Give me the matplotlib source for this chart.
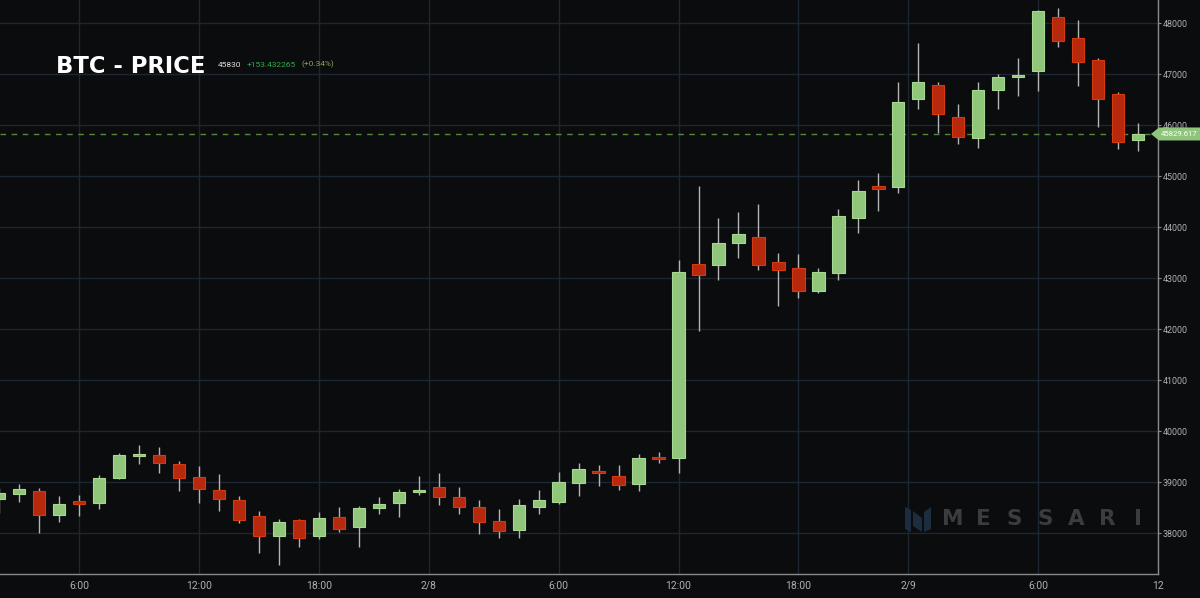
import matplotlib
matplotlib.use("Agg")

import matplotlib.pyplot as plt
import matplotlib.dates as mdates
from matplotlib.patches import Rectangle, Polygon
from matplotlib.transforms import blended_transform_factory
import pandas as pd

# hourly BTC candles, 2/7 02:00 -> 2/9 11:00
times = pd.date_range("2021-02-07 02:00", periods=58, freq="h")
opens = [38679, 38777, 38823, 38365, 38627, 38601, 39091, 39509, 39535, 39359,
         39097, 38856, 38660, 38333, 37947, 38261, 37947, 38313, 38130, 38503,
         38601, 38810, 38901, 38705, 38509, 38235, 38058, 38516, 38614, 38993,
         39228, 39130, 38973, 39490, 39483, 43287, 43268, 43692, 43817, 43326,
         43196, 42745, 43104, 44183, 44810, 44784, 46509, 46784, 46169, 45758,
         46686, 46941, 47058, 48130, 47718, 47274, 46607, 45705]
highs = [38882, 38967, 38882, 38738, 38751, 39143, 39575, 39738, 39699, 39411,
         39320, 39156, 38738, 38431, 38281, 38274, 38424, 38509, 38542, 38705,
         38869, 39124, 39176, 38915, 38653, 38470, 38673, 38849, 39209, 39372,
         39339, 39339, 39555, 39601, 43359, 44810, 44189, 44294, 44451, 43503,
         43470, 43196, 44353, 44921, 45072, 46856, 47607, 46856, 46411, 46856,
         47006, 47326, 48270, 48294, 48065, 47313, 46660, 46039]
lows = [38392, 38620, 37999, 38228, 38339, 38470, 39071, 39352, 39189, 38830,
        38601, 38437, 38209, 37607, 37372, 37738, 37888, 38026, 37738, 38372,
        38326, 38751, 38555, 38372, 37980, 37915, 37915, 38372, 38568, 38732,
        38928, 38849, 38830, 39372, 39176, 41967, 42967, 43405, 43163, 42457,
        42607, 42706, 42967, 43882, 44320, 44666, 46313, 45843, 45627, 45562,
        46326, 46568, 46673, 47535, 46771, 45973, 45529, 45496]
closes = [38784, 38869, 38365, 38575, 38581, 39084, 39542, 39555, 39372, 39091,
          38862, 38679, 38254, 37947, 38215, 37914, 38294, 38091, 38496, 38568,
          38816, 38856, 38712, 38516, 38228, 38045, 38555, 38660, 39000, 39254,
          39176, 38941, 39470, 39450, 43130, 43058, 43699, 43862, 43268, 43157,
          42751, 43117, 44222, 44719, 44745, 46464, 46843, 46228, 45770, 46692,
          46941, 46980, 48241, 47660, 47241, 46522, 45673, 45830]

last_price = "45829.617"
header_price = "45830"
change_abs = "+153.432265"
change_pct = "(+0.34%)"

x_ticks = ["2021-02-07 06:00", "2021-02-07 12:00", "2021-02-07 18:00",
           "2021-02-07 23:30", "2021-02-08 06:00", "2021-02-08 12:00",
           "2021-02-08 18:00", "2021-02-08 23:30", "2021-02-09 06:00",
           "2021-02-09 12:00"]
x_labels = ["6:00", "12:00", "18:00", "2/8", "6:00", "12:00", "18:00", "2/9",
            "6:00", "12"]
y_ticks = list(range(38000, 48001, 1000))

BG = "#0b0c0e"
GRID = "#1d2731"
UP = "#90c67a"
UP_EDGE = "#a8d890"
DOWN = "#b7290d"
DOWN_EDGE = "#d4390f"
WICK = "#b4b4b4"
AXIS = "#8a8a8a"
LABEL = "#b0b0b0"

plt.rcParams["font.family"] = ["Roboto", "DejaVu Sans"]

fig = plt.figure(figsize=(12, 5.98), dpi=100, facecolor=BG)
ax = fig.add_axes([0, 24 / 598, 1158 / 1200, 1 - 24 / 598])
ax.set_facecolor(BG)

xs = mdates.date2num(times)
hour = 1 / 24
w = 0.62 * hour
for x, o, h, l, c in zip(xs, opens, highs, lows, closes):
    up = c >= o
    ax.vlines(x, l, h, color=WICK, linewidth=1, zorder=2)
    lo, hi = min(o, c), max(o, c)
    ax.add_patch(Rectangle((x - w / 2, lo), w, max(hi - lo, 40),
                           facecolor=UP if up else DOWN,
                           edgecolor=UP_EDGE if up else DOWN_EDGE,
                           linewidth=0.8, zorder=3))

ax.set_xlim(xs[0] + 0.035 * hour, xs[-1] + 0.965 * hour)
ax.set_ylim(37202, 48457)

ax.set_xticks(mdates.date2num(pd.to_datetime(x_ticks)))
ax.set_xticklabels(x_labels)
ax.set_yticks(y_ticks)
ax.yaxis.tick_right()
ax.grid(True, color=GRID, linewidth=1, zorder=0)
ax.set_axisbelow(True)

ax.tick_params(axis="x", length=0, pad=5, labelsize=7.5, labelcolor=LABEL)
ax.tick_params(axis="y", length=2, width=0.8, color=AXIS, pad=1.5,
               labelsize=6.4, labelcolor=LABEL)

for side in ("top", "left"):
    ax.spines[side].set_visible(False)
for side in ("right", "bottom"):
    ax.spines[side].set_color(AXIS)
    ax.spines[side].set_linewidth(1)

# current price line and tag at the right edge
last = closes[-1]
ax.axhline(last, color="#55883f", linewidth=1, dashes=(4, 4), zorder=1)
tr = blended_transform_factory(fig.transFigure, ax.transData)
dy = 6.5 / 574 * (48457 - 37202)
tag = Polygon([(1151 / 1200, last), (1159 / 1200, last + dy), (1.01, last + dy),
               (1.01, last - dy), (1159 / 1200, last - dy)],
              closed=True, facecolor="#8fc57a", edgecolor="none",
              transform=tr, clip_on=False, zorder=5)
ax.add_patch(tag)
ax.text(1160.5 / 1200, last, last_price, transform=tr, color="white",
        fontsize=5.6, va="center", ha="left", clip_on=False, zorder=6)

# header
fig.text(56 / 1200, 1 - 72.7 / 598, "BTC - PRICE", color="white",
         fontsize=16.3, fontweight="bold", family="DejaVu Sans",
         va="baseline")
fig.text(218 / 1200, 1 - 66.7 / 598, header_price, color="#e0e0e0",
         fontsize=6, va="baseline")
fig.text(246.5 / 1200, 1 - 66.7 / 598, change_abs, color="#2fae4a",
         fontsize=6, va="baseline")
fig.text(301 / 1200, 1 - 66.7 / 598, change_pct, color="#8aa65a",
         fontsize=6, va="baseline")

# watermark
for i, ch in enumerate("MESSARI"):
    fig.text((953 + i * 30.8) / 1200, 1 - 519 / 598, ch, color="#3a3c40",
             fontsize=15.5, fontweight="bold", ha="center", va="center",
             family="DejaVu Sans")
logo = "#1c2d40"
for pts in ([(905, 507), (911, 510), (911, 532), (905, 529)],
            [(913, 511), (922, 518), (922, 532), (913, 526)],
            [(924, 512), (931, 507), (931, 529), (924, 532)]):
    fig.patches.append(Polygon([(px / 1200, 1 - py / 598) for px, py in pts],
                               closed=True, facecolor=logo, edgecolor="none",
                               transform=fig.transFigure, figure=fig))

fig.savefig("out.png", dpi=100, facecolor=BG)
